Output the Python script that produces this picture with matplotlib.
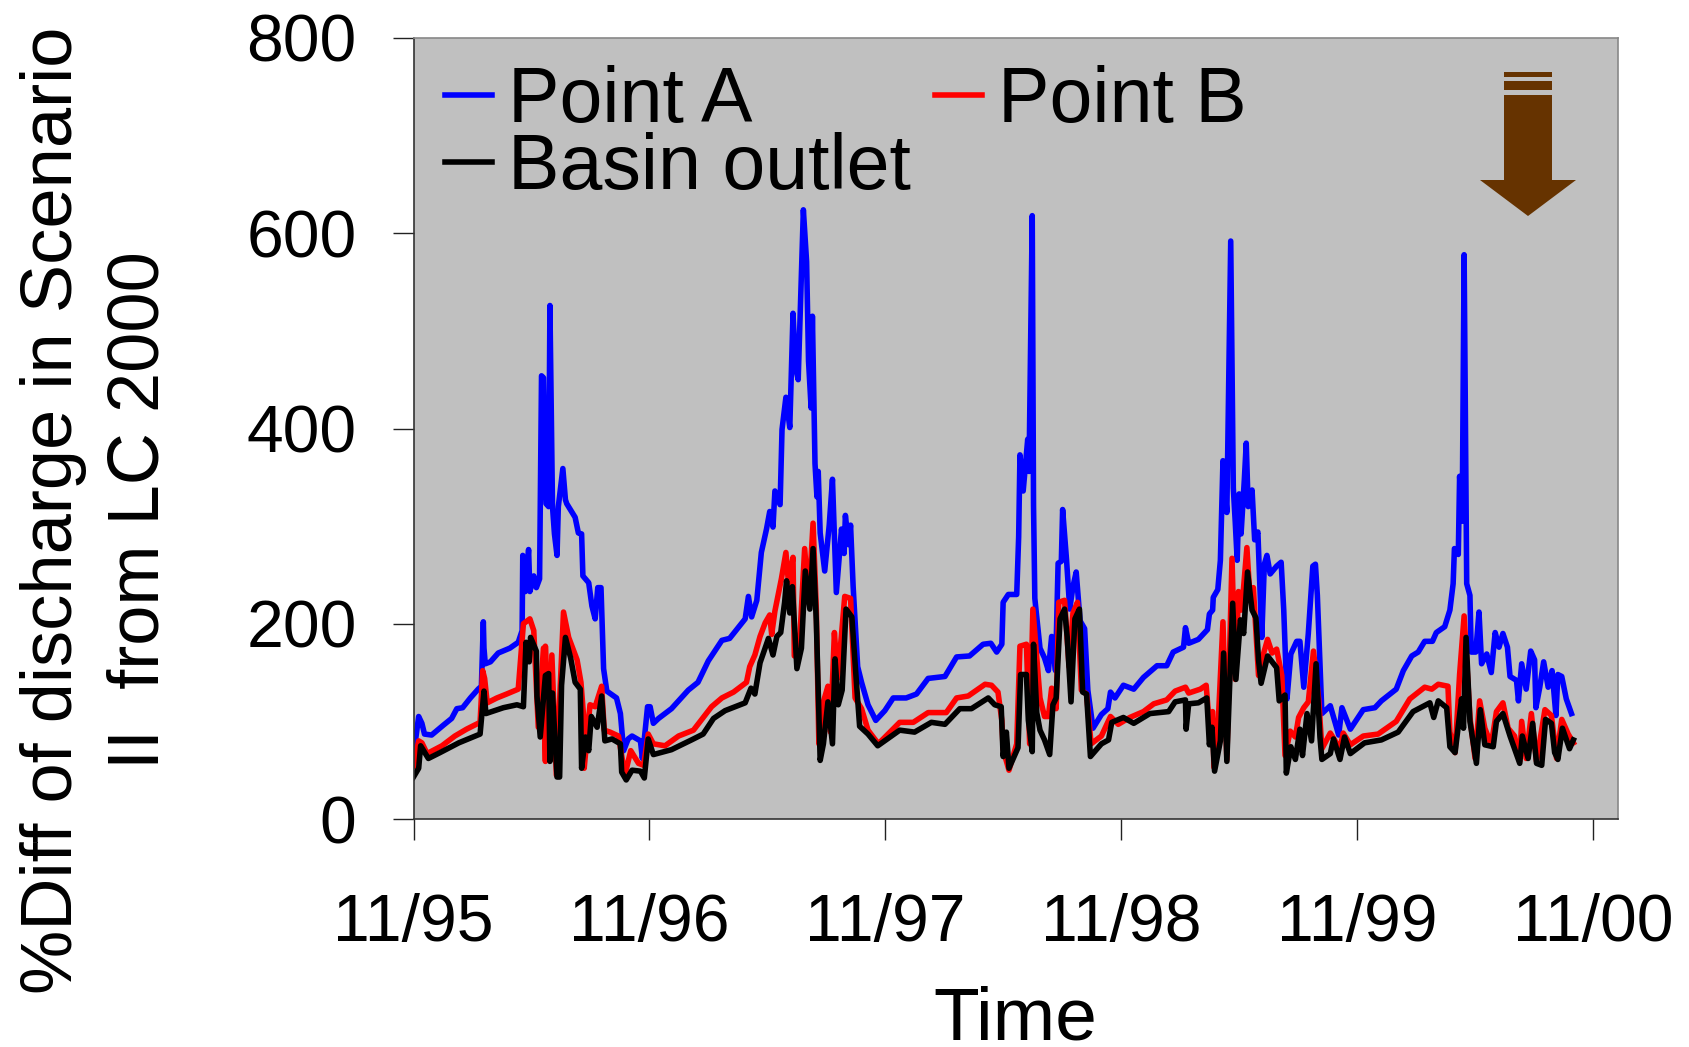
import matplotlib
matplotlib.use("Agg")
from matplotlib import pyplot as plt
from matplotlib.patches import Rectangle, Polygon

plt.rcParams['font.family'] = ['Liberation Sans', 'DejaVu Sans']

# days since 11/95, % difference
days_a = [0,3,8,13,17,28,46,59,67,76,88,100,105,108,109,111,119,131,149,162,168,169,173,178,180,186,190,195,198,201,204,205,209,211,215,218,222,224,231,235,237,250,255,260,262,271,276,281,285,290,294,299,314,320,325,332,338,351,354,362,366,371,
          379,399,425,440,456,477,489,513,518,523,531,538,546,551,556,559,567,570,576,582,587,591,595,603,608,611,615,617,621,624,626,629,636,643,648,654,662,666,668,673,676,680,687,693,703,715,
          729,742,762,778,796,822,840,860,881,893,902,910,912,920,933,936,938,943,950,952,957,959,961,969,976,982,987,993,997,1002,1004,1010,1015,1020,1025,1031,1038,1043,1051,1064,1074,1078,1085,
          1098,1114,1129,1150,1165,1175,1191,1194,1199,1214,1228,1231,1236,1237,1244,1248,1252,1258,1264,1268,1271,1274,1277,1280,1285,1288,1291,1297,1301,1306,1312,1316,1320,1325,1335,1342,1346,1351,1357,1366,1371,1377,1384,1391,1395,1398,1405,1418,1431,1436,1449,
          1469,1487,1497,1520,1531,1544,1554,1564,1576,1582,1595,1603,1608,1610,1616,1618,1622,1625,1629,1634,1636,1643,1648,1652,1660,1667,1673,1679,1685,1692,1696,1706,1709,1714,1721,1728,1734,1736,1742,1748,1755,1761,1767,1770,1776,1783,1791]
point_a = [59,80,105,98,87,86,96,103,113,114,124,133,136,202,175,159,161,170,175,181,193,270,233,276,233,249,237,246,454,452,341,323,320,526,320,292,270,320,359,327,323,309,293,292,249,242,218,205,237,237,154,131,124,108,70,82,85,80,62,115,115,98,
           103,113,132,140,162,183,185,205,228,207,224,273,297,315,299,336,322,399,432,401,518,462,450,624,571,469,421,515,364,330,356,293,254,301,348,232,297,272,311,281,301,238,156,140,117,101,
           111,124,124,128,144,146,166,167,179,180,171,179,222,230,230,289,373,336,389,356,618,321,226,175,165,152,187,152,262,264,317,266,215,238,253,203,195,132,93,107,113,130,124,
           137,133,145,157,157,171,176,196,180,184,194,210,214,227,235,265,367,314,592,339,304,265,333,292,347,385,320,337,286,294,186,261,270,251,259,263,214,123,169,182,182,135,190,259,261,229,108,116,86,114,92,
           112,114,121,133,152,167,171,182,182,191,197,214,241,277,271,351,305,578,241,229,171,171,212,159,169,150,191,176,190,176,146,142,121,159,133,172,163,114,135,161,135,152,106,148,146,123,108]

days_b = [0,8,13,21,44,64,82,103,107,110,114,129,144,162,170,180,186,193,201,204,204,209,214,221,232,240,253,259,263,264,273,281,291,295,304,317,327,336,348,356,363,371,
          389,410,433,461,477,495,515,520,528,536,544,551,554,559,569,576,580,587,589,598,605,611,618,623,627,634,641,645,651,656,662,667,676,683,693,703,719,
          752,773,796,824,840,858,884,894,904,910,912,921,933,938,948,953,958,969,976,982,987,994,998,1007,1014,1020,1027,1033,1041,1048,1064,1078,1090,
          1108,1129,1145,1165,1178,1194,1199,1217,1226,1230,1236,1238,1245,1252,1258,1266,1271,1276,1281,1289,1294,1299,1307,1315,1321,1328,1335,1343,1348,1356,1364,1369,1377,1384,1392,1400,1405,1418,1433,1438,1449,
          1469,1492,1520,1541,1564,1575,1585,1600,1603,1611,1618,1625,1634,1642,1649,1657,1667,1675,1685,1693,1703,1711,1714,1721,1729,1737,1750,1760,1768,1776,1786,1794]
point_b = [54,80,78,67,75,85,92,99,152,144,119,124,128,133,200,205,193,94,175,59,177,62,168,45,212,186,163,140,106,52,117,115,136,91,89,85,45,70,57,55,87,77,
           75,85,91,115,124,130,140,156,168,187,201,209,189,213,246,273,242,268,167,191,277,222,303,215,77,120,136,89,191,144,189,228,226,124,113,91,77,
           99,99,109,109,124,126,138,137,130,101,71,50,77,177,179,77,215,124,105,105,134,113,222,224,156,211,222,132,128,77,85,105,97,
           104,110,118,122,131,135,129,133,137,104,110,53,104,202,61,267,143,233,214,278,225,237,147,170,184,170,174,147,65,90,84,104,114,120,172,123,72,88,72,88,76,
           85,87,100,123,135,133,138,136,89,68,148,208,104,62,121,93,76,110,119,93,85,59,100,62,108,59,112,106,62,102,87,78]

days_c = [0,8,11,23,41,70,103,109,112,139,160,170,174,179,181,190,191,196,204,209,211,215,222,226,229,235,243,250,258,260,266,271,275,284,291,296,307,320,322,329,338,351,357,363,371,
          399,430,448,464,482,513,522,528,536,549,556,562,568,574,577,582,586,593,600,606,613,618,623,629,634,641,648,652,657,663,669,678,684,690,703,718,
          752,775,801,822,845,863,889,899,909,912,917,921,935,939,948,951,957,959,964,969,976,984,989,994,1000,1007,1011,1017,1023,1030,1035,1041,1047,1064,1075,1080,
          1098,1114,1139,1168,1178,1194,1195,1199,1214,1227,1231,1235,1239,1248,1253,1258,1267,1272,1279,1284,1290,1297,1303,1307,1311,1321,1335,1339,1348,1350,1357,1364,1371,1375,1382,1389,1396,1402,1405,1418,1423,1433,1440,1449,
          1471,1497,1523,1546,1572,1578,1585,1598,1603,1611,1621,1624,1628,1634,1644,1650,1657,1670,1675,1685,1696,1711,1715,1724,1731,1737,1745,1751,1760,1765,1770,1777,1788,1794]
basin_outlet = [43,52,75,62,68,78,87,131,108,114,117,115,181,161,186,172,126,84,147,149,59,129,43,43,137,186,165,140,133,52,84,70,105,94,126,80,82,77,48,40,50,49,42,82,66,
                71,81,87,103,111,119,134,128,160,185,168,187,191,222,244,211,238,154,175,254,215,277,203,60,77,120,77,164,117,132,215,207,150,95,87,75,
                91,89,99,97,113,113,124,117,115,64,89,52,73,148,148,101,69,179,109,91,81,66,117,124,205,215,187,120,205,215,130,128,64,77,81,99,
                104,98,108,110,120,122,92,118,119,124,76,94,49,80,170,59,221,143,204,190,253,214,206,163,139,167,155,121,127,47,74,61,92,65,108,80,159,84,61,67,82,61,84,67,
                78,81,89,110,119,104,121,114,74,68,123,93,186,100,57,112,76,74,100,108,85,57,85,62,98,57,55,102,98,68,61,93,72,81]

x_ticks = [0,365,730,1095,1460,1825]
x_labels = ['11/95','11/96','11/97','11/98','11/99','11/00']
y_ticks = [0,200,400,600,800]

W, H = 1689, 1047
fig = plt.figure(figsize=(W/100, H/100), dpi=100)
ax = fig.add_axes([413.5/W, 1-819/H, (1618-413.5)/W, (819-38)/H])
ax.set_facecolor('#C0C0C0')

lw = 4.0
line_a, = ax.plot(days_a, point_a, color='#0000FF', lw=lw, solid_joinstyle='round', label='Point A')
line_b, = ax.plot(days_b, point_b, color='#FF0000', lw=lw, solid_joinstyle='round', label='Point B')
line_c, = ax.plot(days_c, basin_outlet, color='black', lw=lw, solid_joinstyle='round', label='Basin outlet')

ax.set_xlim(0, 1863)
ax.set_ylim(0, 800)
ax.set_xticks(x_ticks)
ax.set_xticklabels(x_labels)
ax.set_yticks(y_ticks)
ax.tick_params(axis='both', length=15, width=1, color='#222222', labelsize=47.5)
ax.tick_params(axis='x', pad=38)
ax.tick_params(axis='y', pad=26)
for s in ['top', 'right']:
    ax.spines[s].set_color('#888888')
    ax.spines[s].set_linewidth(1.2)
for s in ['left', 'bottom']:
    ax.spines[s].set_color('#333333')
    ax.spines[s].set_linewidth(1.2)

ax.legend(handles=[line_a, line_c, line_b], ncol=2, frameon=False, fontsize=55.5,
          handlelength=0.61, handletextpad=0.2, columnspacing=0.32, labelspacing=-0.08,
          loc='upper left', bbox_to_anchor=(0.0135, 0.985), borderaxespad=0, borderpad=0.2)

fig.text(54/W, 1-510/H, '%Diff of discharge in Scenario', rotation=90, fontsize=52, ha='center', va='center')
fig.text(140/W, 1-510/H, 'II  from LC 2000', rotation=90, fontsize=52, ha='center', va='center')
fig.text(1015/W, 1-1040/H, 'Time', fontsize=54, ha='center', va='baseline')

# arrow in the corner, figure pixels
brown = '#663300'
for y0, y1 in [(72, 77), (81, 90), (95, 181)]:
    fig.add_artist(Rectangle((1504/W, 1-y1/H), 48/W, (y1-y0)/H, transform=fig.transFigure, color=brown, lw=0))
fig.add_artist(Polygon([(1480/W, 1-180/H), (1576/W, 1-180/H), (1528/W, 1-216/H)], closed=True,
                       transform=fig.transFigure, color=brown, lw=0))

fig.savefig('out.png', dpi=100)
